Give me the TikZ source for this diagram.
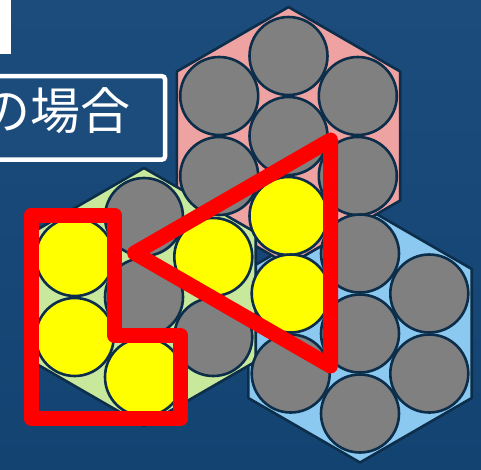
\documentclass[tikz,border=0pt]{standalone}
\usepackage{fontspec}
\newfontfamily\cjkfont{Noto Sans CJK JP}
\definecolor{bgtop}{RGB}{27,76,124}
\definecolor{bgbot}{RGB}{19,67,113}
\definecolor{hexpink}{RGB}{238,162,162}
\definecolor{hexgreen}{RGB}{200,232,155}
\definecolor{hexblue}{RGB}{140,201,240}
\definecolor{edgecol}{RGB}{12,46,74}
\definecolor{ballgray}{RGB}{128,128,128}
\definecolor{ballyellow}{RGB}{255,255,0}
\definecolor{markred}{RGB}{255,0,0}
\tikzset{
  hexcell/.style={draw=edgecol, line width=2.6pt, line join=round},
  ball/.style={draw=edgecol, line width=2.6pt},
  redline/.style={draw=markred, line width=15pt, line join=round, line cap=round},
  labelbox/.style={draw=white, line width=4.5pt, rounded corners=3pt, fill=bgtop},
}
\newcommand\hexpath{(0,-129) -- (111.7,-64.5) -- (111.7,64.5) -- (0,129) -- (-111.7,64.5) -- (-111.7,-64.5) -- cycle}
\begin{document}
\begin{tikzpicture}[x=1pt,y=-1pt]
\useasboundingbox (0,0) rectangle (481,469);
\clip (0,0) rectangle (481,469);
\shade[top color=bgtop, bottom color=bgbot] (0,0) rectangle (481,469);

% white block at top left
\fill[white] (-5,-5) rectangle (10.7,54.3);

% label box
\draw[labelbox] (-20,76.2) rectangle (165,159.6);
\node[anchor=east, inner sep=0pt, text=white, font=\cjkfont\fontsize{50}{60}\selectfont] (lbl) at (131,111) {の場合};

% hexagon cells
\begin{scope}[shift={(360,333.5)}]
  \path[hexcell, fill=hexblue] \hexpath;
\end{scope}
\begin{scope}[shift={(288.5,136)}]
  \path[hexcell, fill=hexpink] \hexpath;
\end{scope}
\begin{scope}[shift={(144,297)}]
  \path[hexcell, fill=hexgreen] \hexpath;
\end{scope}

% balls: pink cluster
\begin{scope}[shift={(288.5,136)}]
  \foreach \dx/\dy/\c in {0/0/ballgray, 0/-80/ballgray, 69.3/-40/ballgray, 69.3/40/ballgray, 0/80/ballyellow, -69.3/40/ballgray, -69.3/-40/ballgray}
    \draw[ball, fill=\c] (\dx,\dy) circle[radius=39];
\end{scope}
% balls: blue cluster
\begin{scope}[shift={(360,333.5)}]
  \foreach \dx/\dy/\c in {0/0/ballgray, 0/-80/ballgray, 69.3/-40/ballgray, 69.3/40/ballgray, 0/80/ballgray, -69.3/40/ballgray, -69.3/-40/ballyellow}
    \draw[ball, fill=\c] (\dx,\dy) circle[radius=39];
\end{scope}
% balls: green cluster
\begin{scope}[shift={(144,297)}]
  \foreach \dx/\dy/\c in {0/0/ballgray, 0/-80/ballgray, 69.3/-40/ballyellow, 69.3/40/ballgray, 0/80/ballyellow, -69.3/40/ballyellow, -69.3/-40/ballyellow}
    \draw[ball, fill=\c] (\dx,\dy) circle[radius=39];
\end{scope}

% red triangle
\coordinate (tA) at (134.5,253);
\coordinate (tB) at (330.5,140);
\coordinate (tC) at (330.5,366);
\draw[redline] (tA) -- (tB) -- (tC) -- cycle;

% red L shape
\coordinate (l1) at (31,215);
\coordinate (l2) at (114.5,215);
\coordinate (l3) at (114.5,335.5);
\coordinate (l4) at (180.5,335.5);
\coordinate (l5) at (180.5,418.5);
\coordinate (l6) at (31,418.5);
\draw[redline] (l1) -- (l2) -- (l3) -- (l4) -- (l5) -- (l6) -- cycle;
\end{tikzpicture}
\end{document}
